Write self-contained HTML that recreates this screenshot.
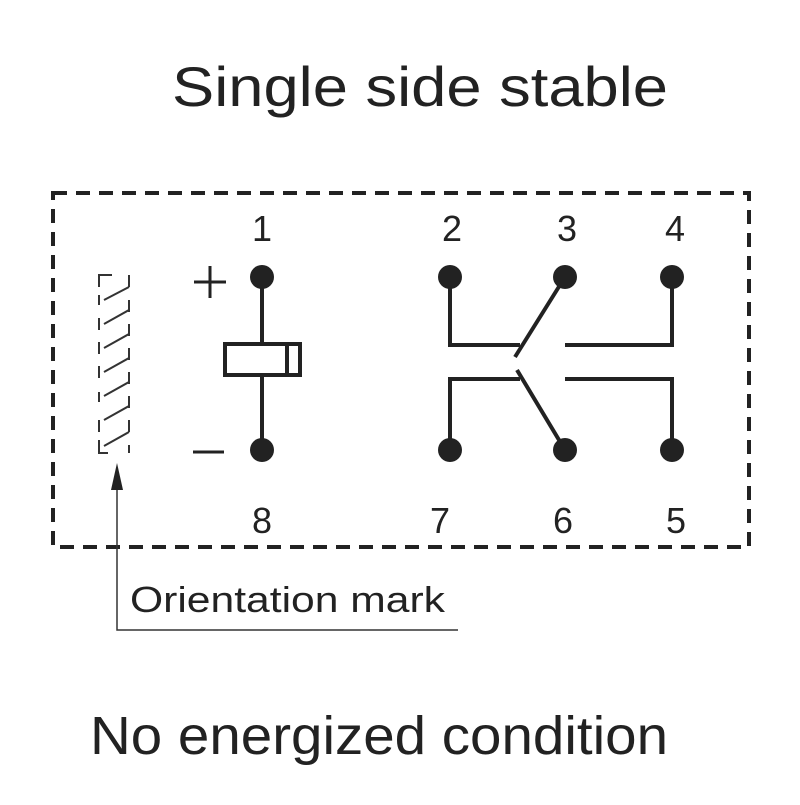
<!DOCTYPE html>
<html><head><style>body{margin:0;background:#fff}</style></head><body>
<svg width="800" height="800" xmlns="http://www.w3.org/2000/svg" font-family="Liberation Sans, sans-serif" fill="#222">
<text x="172" y="106" font-size="56" textLength="496" lengthAdjust="spacingAndGlyphs">Single side stable</text>
<rect x="53" y="193" width="696" height="354" fill="none" stroke="#222" stroke-width="4" stroke-dasharray="14,9"/>
<g font-size="36" text-anchor="middle">
<text x="262" y="241">1</text><text x="452" y="241">2</text><text x="567" y="241">3</text><text x="675" y="241">4</text>
<text x="262" y="533">8</text><text x="440" y="533">7</text><text x="563" y="533">6</text><text x="676" y="533">5</text>
</g>
<line x1="194" y1="282" x2="226" y2="282" stroke="#222" stroke-width="3"/>
<line x1="210" y1="266" x2="210" y2="298" stroke="#222" stroke-width="3"/>
<line x1="193" y1="452" x2="224" y2="452" stroke="#222" stroke-width="3"/>
<g stroke="#222" stroke-width="4" fill="none">
<line x1="262" y1="277" x2="262" y2="450"/>
<rect x="225" y="344" width="75" height="31" fill="#fff"/>
<line x1="287" y1="344" x2="287" y2="375"/>
<polyline points="450,277 450,345 520,345"/>
<polyline points="450,450 450,379 520,379"/>
<line x1="565" y1="277" x2="515" y2="357"/>
<line x1="517" y1="370" x2="565" y2="450"/>
<polyline points="672,277 672,345 565,345"/>
<polyline points="565,379 672,379 672,450"/>
</g>
<g fill="#222">
<circle cx="262" cy="277" r="12"/><circle cx="262" cy="450" r="12"/>
<circle cx="450" cy="277" r="12"/><circle cx="565" cy="277" r="12"/><circle cx="672" cy="277" r="12"/>
<circle cx="450" cy="450" r="12"/><circle cx="565" cy="450" r="12"/><circle cx="672" cy="450" r="12"/>
</g>
<g stroke="#333" stroke-width="2" fill="none">
<polyline points="99,287 99,275 112,275"/>
<line x1="129" y1="275" x2="129" y2="287"/>
<line x1="99" y1="295" x2="99" y2="305"/><line x1="99" y1="318" x2="99" y2="330"/><line x1="99" y1="342" x2="99" y2="354"/><line x1="99" y1="366" x2="99" y2="378"/><line x1="99" y1="392" x2="99" y2="402"/><line x1="99" y1="420" x2="99" y2="432"/>
<line x1="129" y1="300" x2="129" y2="312"/><line x1="129" y1="324" x2="129" y2="336"/><line x1="129" y1="348" x2="129" y2="360"/><line x1="129" y1="372" x2="129" y2="384"/><line x1="129" y1="396" x2="129" y2="408"/><line x1="129" y1="420" x2="129" y2="432"/>
<line x1="104" y1="300" x2="129" y2="287"/><line x1="104" y1="324" x2="129" y2="310"/><line x1="104" y1="348" x2="129" y2="334"/><line x1="104" y1="372" x2="129" y2="358"/><line x1="104" y1="396" x2="129" y2="382"/><line x1="104" y1="420" x2="129" y2="406"/><line x1="104" y1="446" x2="129" y2="432"/>
<polyline points="99,440 99,453 108,453"/><line x1="129" y1="445" x2="129" y2="453"/>
</g>
<polyline points="117,490 117,630 458,630" stroke="#333" stroke-width="1.5" fill="none"/>
<polygon points="117,463 111,490 123,490" fill="#222"/>
<text x="130" y="612" font-size="36" textLength="315" lengthAdjust="spacingAndGlyphs">Orientation mark</text>
<text x="90" y="754" font-size="54" textLength="578" lengthAdjust="spacingAndGlyphs">No energized condition</text>
</svg>
</body></html>
